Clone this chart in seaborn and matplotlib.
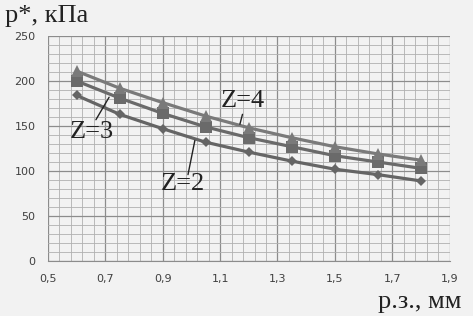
import numpy as np
import pandas as pd
import matplotlib
matplotlib.use("Agg")
import matplotlib.pyplot as plt
import seaborn as sns
from matplotlib.ticker import MultipleLocator

# values
x_vals = [0.6, 0.75, 0.9, 1.05, 1.2, 1.35, 1.5, 1.65, 1.8]
z2 = [184, 163, 147, 132, 121, 111, 102, 96, 89]
z3 = [200, 181, 164, 149, 137, 127, 117, 110, 103]
z4 = [211, 192, 176, 161, 148, 137, 127, 119, 112]
x_ticks = [0.5, 0.7, 0.9, 1.1, 1.3, 1.5, 1.7, 1.9]
x_ticklabels = ["0,5", "0,7", "0,9", "1,1", "1,3", "1,5", "1,7", "1,9"]

data = pd.DataFrame({
    "x": x_vals * 3,
    "p": z2 + z3 + z4,
    "Z": ["2"] * 9 + ["3"] * 9 + ["4"] * 9,
})

sns.set_style("white")
plt.rcParams["font.family"] = ["DejaVu Sans"]

bg = "#f2f2f2"
fig = plt.figure(figsize=(4.73, 3.16), dpi=100, facecolor=bg)
ax = fig.add_axes([0.1015, 0.174, 0.849, 0.712], facecolor=bg)

pal = {"2": "#656565", "3": "#6a6a6a", "4": "#7a7a7a"}
mk = {"2": "D", "3": "s", "4": "^"}
sizes = {"2": 5, "3": 8, "4": 9}
for z in ["2", "3", "4"]:
    sns.lineplot(data=data[data["Z"] == z], x="x", y="p", color=pal[z],
                 marker=mk[z], markersize=sizes[z], markeredgewidth=0,
                 linewidth=2.3, ax=ax, legend=False)

ax.set_xlim(0.5, 1.9)
ax.set_ylim(0, 250)
ax.set_xticks(x_ticks)
ax.set_xticklabels(x_ticklabels)
ax.xaxis.set_minor_locator(MultipleLocator(0.04, offset=0.5))
ax.yaxis.set_major_locator(MultipleLocator(50))
ax.yaxis.set_minor_locator(MultipleLocator(10))
ax.grid(which="major", color="#8c8c8c", linewidth=0.9)
ax.grid(which="minor", color="#b0b0b0", linewidth=0.6)
ax.set_axisbelow(True)
for s in ["top", "right", "left"]:
    ax.spines[s].set_visible(False)
ax.spines["bottom"].set_color("#8c8c8c")
ax.tick_params(axis="both", which="major", labelsize=8, colors="#404040",
               length=4, width=0.8, direction="out", pad=5)
ax.tick_params(axis="both", which="major", color="#8c8c8c")
ax.tick_params(which="minor", length=0)
ax.set_xlabel("")
ax.set_ylabel("")

serif = ["Liberation Serif", "DejaVu Serif"]
ink = "#222222"
fig.text(0.01, 0.985, "p*, кПа", family=serif, fontsize=19, va="top", ha="left", color=ink)
fig.text(0.975, 0.01, "р.з., мм", family=serif, fontsize=19, va="bottom", ha="right", color=ink)

# curve labels with leader lines
leader = dict(arrowstyle="-", color=ink, lw=1, shrinkA=0, shrinkB=0)
ax.text(0.652, 143, "Z=3", family=serif, fontsize=19, ha="center", va="center", color=ink)
ax.annotate("", xy=(0.713, 182), xytext=(0.667, 157), arrowprops=leader)
ax.text(1.18, 178, "Z=4", family=serif, fontsize=19, ha="center", va="center", color=ink)
ax.annotate("", xy=(1.178, 163), xytext=(1.169, 152), arrowprops=leader)
ax.text(0.97, 86, "Z=2", family=serif, fontsize=19, ha="center", va="center", color=ink)
ax.annotate("", xy=(1.012, 134), xytext=(0.988, 96), arrowprops=leader)

fig.savefig("out.png", dpi=100, facecolor=bg)
